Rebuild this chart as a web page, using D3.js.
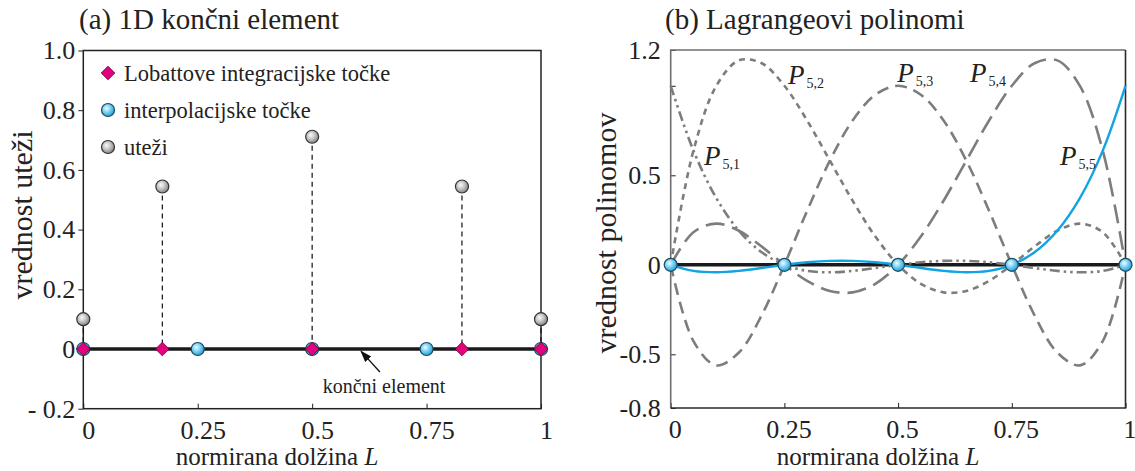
<!DOCTYPE html>
<html>
<head>
<meta charset="utf-8">
<script src="https://cdn.jsdelivr.net/npm/d3@7"></script>
<style>
  body { margin: 0; background: #fff; }
  svg { display: block; }
  .tick line { stroke: #222; }
  .tick text { font-size: 26px; fill: #222; }
</style>
</head>
<body>
<svg id="chart" width="1135" height="471"></svg>
<script>
// ---------------- DATA ----------------

// (a) 1D element
const lobattoX = [0, 0.1727, 0.5, 0.8273, 1];
const interpX = [0, 0.25, 0.5, 0.75, 1];
const weights = [0.1, 0.5444, 0.7111, 0.5444, 0.1];
const leftYTicks = [1.0, 0.8, 0.6, 0.4, 0.2, 0, -0.2];
const leftYLabels = ["1.0", "0.8", "0.6", "0.4", "0.2", "0", "- 0.2"];
const xTicks = [0, 0.25, 0.5, 0.75, 1];
const xTickLabels = ["0", "0.25", "0.5", "0.75", "1"];
const legendItems = ["Lobattove integracijske točke", "interpolacijske točke", "uteži"];

// (b) Lagrange polynomials, read at L = 0, 0.05, ... 1
const sampleX = [0, 0.05, 0.1, 0.15, 0.2, 0.25, 0.3, 0.35, 0.4, 0.45, 0.5,
                 0.55, 0.6, 0.65, 0.7, 0.75, 0.8, 0.85, 0.9, 0.95, 1];
const p51 = [1, 0.638, 0.374, 0.190, 0.070, 0, -0.034, -0.042, -0.034, -0.018, 0,
             0.014, 0.022, 0.022, 0.014, 0, -0.018, -0.034, -0.042, -0.034, 0];
const p52 = [0, 0.638, 0.998, 1.142, 1.126, 1, 0.806, 0.582, 0.358, 0.158, 0,
             -0.106, -0.154, -0.146, -0.090, 0, 0.102, 0.190, 0.230, 0.182, 0];
const p53 = [0, -0.426, -0.562, -0.490, -0.282, 0, 0.302, 0.582, 0.806, 0.950, 1,
             0.950, 0.806, 0.582, 0.302, 0, -0.282, -0.490, -0.562, -0.426, 0];
const p54 = [0, 0.182, 0.230, 0.190, 0.102, 0, -0.090, -0.146, -0.154, -0.106, 0,
             0.158, 0.358, 0.582, 0.806, 1, 1.126, 1.142, 0.998, 0.638, 0];
const p55 = [0, -0.034, -0.042, -0.034, -0.018, 0, 0.014, 0.022, 0.022, 0.014, 0,
             -0.018, -0.034, -0.042, -0.034, 0, 0.070, 0.190, 0.374, 0.638, 1];
const rightYTicks = [1.2, 1.0, 0.5, 0, -0.5, -0.8];
const rightYLabels = ["1.2", "", "0.5", "0", "-0.5", "-0.8"];

const series = [
  { name: "5,1", values: p51, dash: "10,4,2.5,4,2.5,4", color: "#7d7d7d", lx: 0.073, ly: 0.555 },
  { name: "5,2", values: p52, dash: "6,5", color: "#7d7d7d", lx: 0.258, ly: 1.01 },
  { name: "5,3", values: p53, dash: "12,7", color: "#7d7d7d", lx: 0.498, ly: 1.02 },
  { name: "5,4", values: p54, dash: "19,8", color: "#7d7d7d", lx: 0.658, ly: 1.02 },
  { name: "5,5", values: p55, dash: null, color: "#12a3e3", lx: 0.856, ly: 0.555 },
];

const SERIF = "'Liberation Serif', 'Times New Roman', serif";

// ---------------- SETUP ----------------

const svg = d3.select("#chart").attr("font-family", SERIF);
svg.append("rect").attr("width", 1135).attr("height", 471).attr("fill", "#fff");

const defs = svg.append("defs");
function radial(id, c0, c1, c2) {
  const g = defs.append("radialGradient").attr("id", id)
    .attr("cx", "40%").attr("cy", "38%").attr("r", "65%");
  g.append("stop").attr("offset", "0%").attr("stop-color", c0);
  g.append("stop").attr("offset", "45%").attr("stop-color", c1);
  g.append("stop").attr("offset", "100%").attr("stop-color", c2);
}
radial("gBlue", "#f2fbff", "#7fd4f6", "#1a9bd6");
radial("gGray", "#fafafa", "#c8c8c8", "#7e7e7e");

defs.append("marker").attr("id", "arrow")
  .attr("viewBox", "0 0 10 10").attr("refX", 9).attr("refY", 5)
  .attr("markerWidth", 9).attr("markerHeight", 9).attr("orient", "auto")
  .append("path").attr("d", "M0,1.5 L10,5 L0,8.5 Z").attr("fill", "#111");

function circleMarker(g, x, y, kind) {
  g.append("circle").attr("cx", x).attr("cy", y).attr("r", 6.5)
    .attr("fill", kind === "blue" ? "url(#gBlue)" : "url(#gGray)")
    .attr("stroke", kind === "blue" ? "#1d4b5c" : "#333")
    .attr("stroke-width", 1.2);
}
function diamondMarker(g, x, y) {
  const h = 6.8;
  g.append("path")
    .attr("d", `M${x},${y - h} L${x + h},${y} L${x},${y + h} L${x - h},${y} Z`)
    .attr("fill", "#e5007d").attr("stroke", "#5a0030").attr("stroke-width", 0.8);
}
function serifAxis(g) {
  g.attr("font-family", SERIF).attr("font-size", null);
  g.select(".domain").remove();
}

// ---------------- (a) LEFT PANEL ----------------

const xL = d3.scaleLinear().domain([0, 1]).range([83.3, 541]);
const yL = d3.scaleLinear().domain([-0.2, 1.0]).range([408.7, 50.5]);

const left = svg.append("g");

left.append("text").attr("x", 79).attr("y", 29).attr("font-size", 29).attr("fill", "#222")
  .text("(a) 1D končni element");

left.append("g")
  .attr("transform", `translate(${xL(0)},0)`)
  .call(d3.axisLeft(yL).tickValues(leftYTicks).tickSize(5).tickSizeOuter(0).tickPadding(3)
    .tickFormat((d, i) => leftYLabels[i]))
  .call(serifAxis);

left.append("g")
  .attr("transform", `translate(0,${yL(-0.2)})`)
  .call(d3.axisBottom(xL).tickValues(xTicks).tickSize(-5).tickSizeOuter(0).tickPadding(12)
    .tickFormat((d, i) => xTickLabels[i]))
  .call(serifAxis)
  .call(g => g.selectAll("text").attr("dx", 5));

left.append("rect")
  .attr("x", xL(0)).attr("y", yL(1.0))
  .attr("width", xL(1) - xL(0)).attr("height", yL(-0.2) - yL(1.0))
  .attr("fill", "none").attr("stroke", "#222").attr("stroke-width", 1.5);

// stems
left.selectAll(".stem")
  .data(lobattoX.map((x, i) => ({ x, w: weights[i] })))
  .join("line")
  .attr("x1", d => xL(d.x)).attr("x2", d => xL(d.x))
  .attr("y1", d => yL(d.w)).attr("y2", yL(0))
  .attr("stroke", "#111").attr("stroke-width", 1.2).attr("stroke-dasharray", "5,4");

left.append("line")
  .attr("x1", xL(0)).attr("x2", xL(1)).attr("y1", yL(0)).attr("y2", yL(0))
  .attr("stroke", "#1a1a1a").attr("stroke-width", 3.5);

interpX.forEach(x => circleMarker(left, xL(x), yL(0), "blue"));
lobattoX.forEach(x => diamondMarker(left, xL(x), yL(0)));
lobattoX.forEach((x, i) => circleMarker(left, xL(x), yL(weights[i]), "gray"));

// legend
legendItems.forEach((label, i) => {
  const y = 73 + i * 37;
  if (i === 0) diamondMarker(left, 108, y);
  else circleMarker(left, 108, y, i === 1 ? "blue" : "gray");
  left.append("text").attr("x", 124).attr("y", y + 8).attr("font-size", 22.5).attr("fill", "#222")
    .text(label);
});

// annotation
left.append("line")
  .attr("x1", xL(0.648)).attr("y1", yL(-0.077))
  .attr("x2", xL(0.607)).attr("y2", yL(-0.008))
  .attr("stroke", "#111").attr("stroke-width", 1.3).attr("marker-end", "url(#arrow)");
left.append("text").attr("x", xL(0.657)).attr("y", yL(-0.148))
  .attr("text-anchor", "middle").attr("font-size", 20).attr("fill", "#222")
  .text("končni element");

left.append("text")
  .attr("transform", `translate(32,215) rotate(-90)`)
  .attr("text-anchor", "middle").attr("font-size", 30).attr("fill", "#222")
  .text("vrednost uteži");

const xlabL = left.append("text").attr("x", 277).attr("y", 465)
  .attr("text-anchor", "middle").attr("font-size", 25).attr("fill", "#222");
xlabL.append("tspan").text("normirana dolžina ");
xlabL.append("tspan").attr("font-style", "italic").text("L");

// ---------------- (b) RIGHT PANEL ----------------

const xR = d3.scaleLinear().domain([0, 1]).range([670.7, 1125.5]);
const yR = d3.scaleLinear().domain([-0.8, 1.2]).range([408, 50]);

const right = svg.append("g");

right.append("text").attr("x", 665).attr("y", 29).attr("font-size", 29).attr("fill", "#222")
  .text("(b) Lagrangeovi polinomi");

right.append("g")
  .attr("transform", `translate(${xR(0)},0)`)
  .call(d3.axisLeft(yR).tickValues(rightYTicks).tickSize(-5).tickSizeOuter(0).tickPadding(10)
    .tickFormat((d, i) => rightYLabels[i]))
  .call(serifAxis);

right.append("g")
  .attr("transform", `translate(0,${yR(-0.8)})`)
  .call(d3.axisBottom(xR).tickValues(xTicks).tickSize(-5).tickSizeOuter(0).tickPadding(12)
    .tickFormat((d, i) => xTickLabels[i]))
  .call(serifAxis)
  .call(g => g.selectAll("text").attr("dx", 4));

// frame: left/top gray, right/bottom dark
right.append("path")
  .attr("d", `M${xR(0)},${yR(-0.8)} L${xR(0)},${yR(1.2)} L${xR(1)},${yR(1.2)}`)
  .attr("fill", "none").attr("stroke", "#6e6e6e").attr("stroke-width", 1.6);
right.append("path")
  .attr("d", `M${xR(1)},${yR(1.2)} L${xR(1)},${yR(-0.8)} L${xR(0)},${yR(-0.8)}`)
  .attr("fill", "none").attr("stroke", "#2a2a2a").attr("stroke-width", 1.6);

const line = d3.line()
  .x((d, i) => xR(sampleX[i]))
  .y(d => yR(d))
  .curve(d3.curveCatmullRom);

right.append("line")
  .attr("x1", xR(0)).attr("x2", xR(1)).attr("y1", yR(0)).attr("y2", yR(0))
  .attr("stroke", "#1a1a1a").attr("stroke-width", 3.5);

right.selectAll(".curve")
  .data(series)
  .join("path")
  .attr("class", "curve")
  .attr("d", d => line(d.values))
  .attr("fill", "none")
  .attr("stroke", d => d.color)
  .attr("stroke-width", d => d.dash ? 2.6 : 2.4)
  .attr("stroke-dasharray", d => d.dash);

interpX.forEach(x => circleMarker(right, xR(x), yR(0), "blue"));

// curve labels
series.forEach(s => {
  const t = right.append("text")
    .attr("x", xR(s.lx)).attr("y", yR(s.ly)).attr("fill", "#222");
  t.append("tspan").attr("font-size", 27).attr("font-style", "italic").text("P");
  t.append("tspan").attr("font-size", 14).attr("dx", 2).attr("dy", 4).text(s.name);
});

right.append("text")
  .attr("transform", `translate(616,233) rotate(-90)`)
  .attr("text-anchor", "middle").attr("font-size", 30).attr("fill", "#222")
  .text("vrednost polinomov");

const xlabR = right.append("text").attr("x", 878).attr("y", 465)
  .attr("text-anchor", "middle").attr("font-size", 25).attr("fill", "#222");
xlabR.append("tspan").text("normirana dolžina ");
xlabR.append("tspan").attr("font-style", "italic").text("L");
</script>
</body>
</html>
